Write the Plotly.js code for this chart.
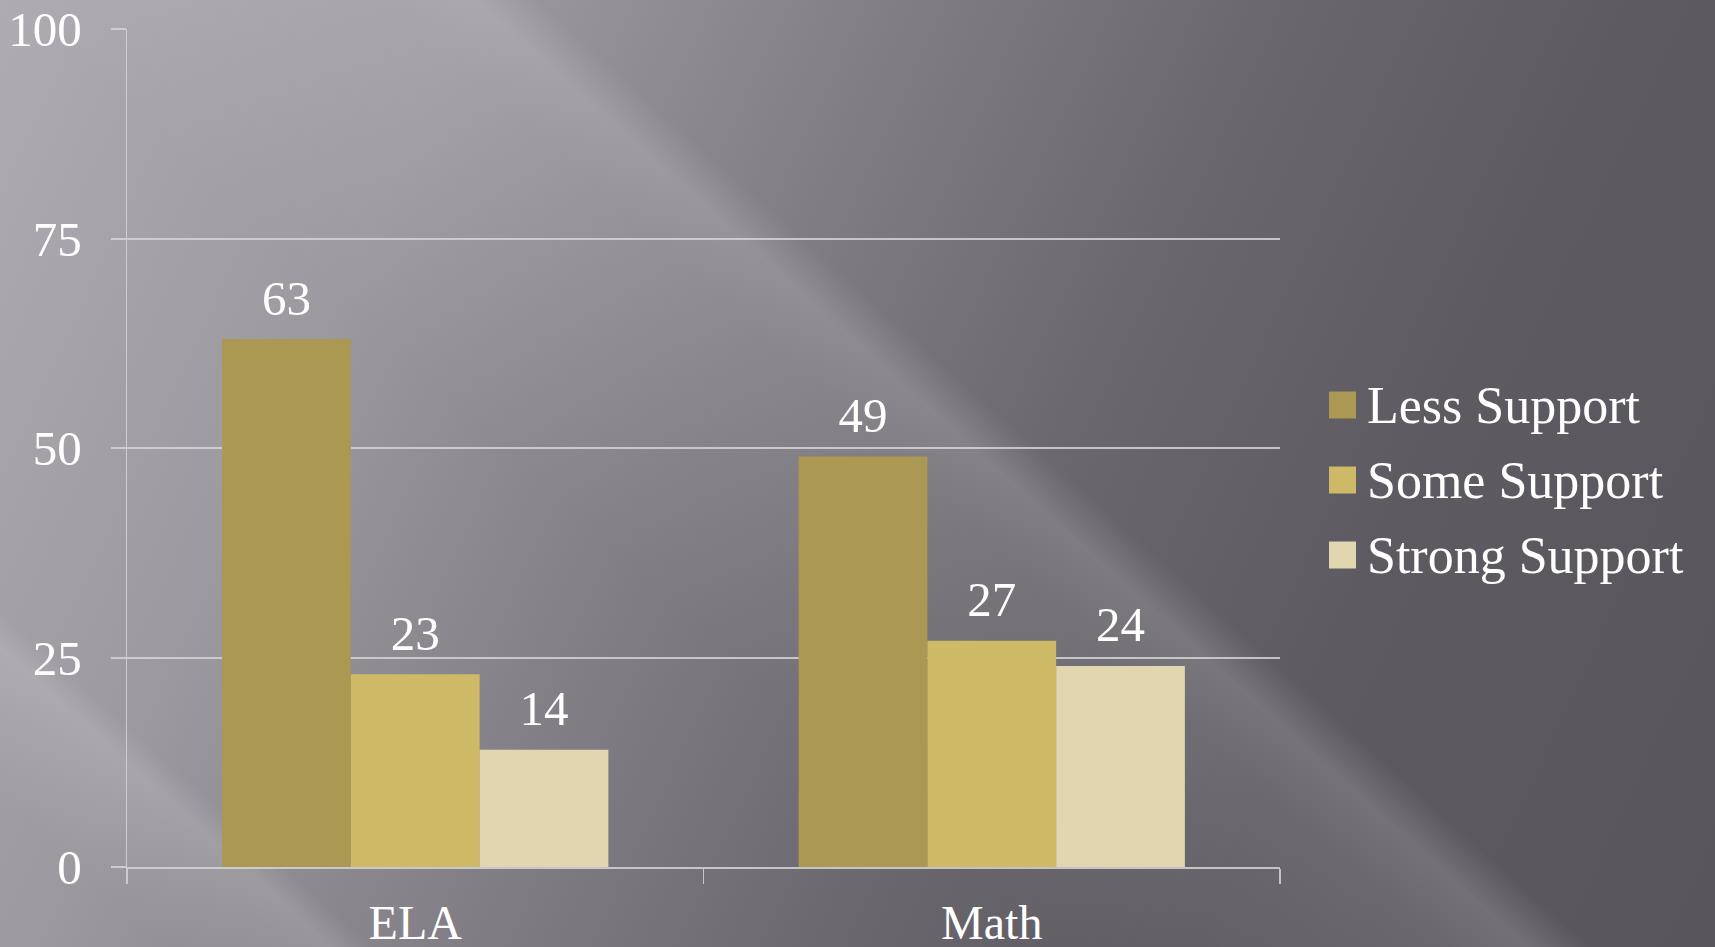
<!DOCTYPE html>
<html>
<head>
<meta charset="utf-8">
<script src="https://cdn.plot.ly/plotly-3.0.1.min.js"></script>
<style>
html, body { margin: 0; padding: 0; width: 1715px; height: 947px; overflow: hidden; }
body {
  background:
    linear-gradient(42deg, rgba(255,255,255,0) 6%, rgba(255,255,255,0.09) 10.5%, rgba(255,255,255,0.13) 12%, rgba(255,255,255,0) 13.5%),
    linear-gradient(42deg, rgba(255,255,255,0) 38%, rgba(255,255,255,0.09) 52%, rgba(255,255,255,0.15) 55.2%, rgba(255,255,255,0) 57.5%),
    linear-gradient(115deg, #aeabb2 0%, #9c99a0 22%, #807d84 42%, #69676d 60%, #5d5b61 76%, #58565c 100%);
}
#chart { width: 1715px; height: 947px; }
</style>
</head>
<body>
<div id="chart"></div>
<script>
// ---- data ----
const categories = ['ELA', 'Math'];
const seriesNames = ['Less Support', 'Some Support', 'Strong Support'];
const lessSupport = [63, 49];
const someSupport = [23, 27];
const strongSupport = [14, 24];
const yTickValues = [0, 25, 50, 75, 100];
const yTickLabels = ['0', '25', '50', '75', '100'];

// ---- style ----
const seriesValues = [lessSupport, someSupport, strongSupport];
const seriesColors = ['#ab9853', '#ceb967', '#e1d6b0'];
const FONT = '"Liberation Serif", "Times New Roman", serif';
const lineColor = 'rgba(214,212,214,0.85)';

const traces = [];
seriesValues.forEach((vals, i) => {
  traces.push({
    type: 'bar',
    name: seriesNames[i],
    x: categories,
    y: vals,
    marker: { color: seriesColors[i], line: { width: 0 } },
    showlegend: false,
    hoverinfo: 'skip'
  });
});
seriesValues.forEach((vals, i) => {
  traces.push({
    type: 'scatter',
    mode: 'markers+text',
    name: seriesNames[i] + ' labels',
    x: categories,
    y: vals,
    text: vals.map(v => String(v)),
    textposition: 'top center',
    textfont: { family: FONT, size: 49, color: '#ffffff' },
    marker: { size: 18, opacity: 0 },
    cliponaxis: false,
    showlegend: false,
    hoverinfo: 'skip'
  });
});

// legend built from series names
const legendTopY = 0.5513, legendStep = 0.0895;
const shapes = seriesNames.map((n, i) => ({
  type: 'rect', xref: 'paper', yref: 'paper',
  xsizemode: 'pixel', ysizemode: 'pixel',
  xanchor: 1.0542, yanchor: legendTopY - i * legendStep,
  x0: -13.5, x1: 13.5, y0: -13.5, y1: 13.5,
  fillcolor: seriesColors[i], line: { width: 0 }
}));
const annotations = seriesNames.map((n, i) => ({
  xref: 'paper', yref: 'paper',
  x: 1.0737, y: legendTopY - i * legendStep,
  xanchor: 'left', yanchor: 'middle',
  text: n, showarrow: false,
  font: { family: FONT, size: 52, color: '#ffffff' }
}));

const layout = {
  width: 1715, height: 947,
  margin: { l: 127, r: 435, t: 29, b: 80, pad: 0 },
  paper_bgcolor: 'rgba(0,0,0,0)',
  plot_bgcolor: 'rgba(0,0,0,0)',
  barmode: 'group',
  bargap: 0.33,
  bargroupgap: 0,
  scattermode: 'group',
  scattergap: 0.33,
  showlegend: false,
  font: { family: FONT, color: '#ffffff', size: 48 },
  xaxis: {
    type: 'category',
    showline: true, linecolor: lineColor, linewidth: 2,
    ticks: 'outside', tickson: 'boundaries', ticklen: 15, tickwidth: 1.5, tickcolor: lineColor,
    showgrid: false, zeroline: false,
    tickfont: { family: FONT, size: 48, color: '#ffffff' },
    ticklabelstandoff: 12,
    fixedrange: true
  },
  yaxis: {
    range: [0, 100],
    tickvals: yTickValues, ticktext: yTickLabels,
    showline: true, linecolor: lineColor, linewidth: 1.5,
    showgrid: true, gridcolor: lineColor, gridwidth: 2,
    ticks: 'outside', ticklen: 15, tickwidth: 2, tickcolor: lineColor,
    zeroline: false,
    tickfont: { family: FONT, size: 49, color: '#ffffff' },
    ticklabelstandoff: 19,
    fixedrange: true
  },
  shapes: shapes,
  annotations: annotations
};

Plotly.newPlot('chart', traces, layout, { displayModeBar: false, staticPlot: true });
</script>
</body>
</html>
